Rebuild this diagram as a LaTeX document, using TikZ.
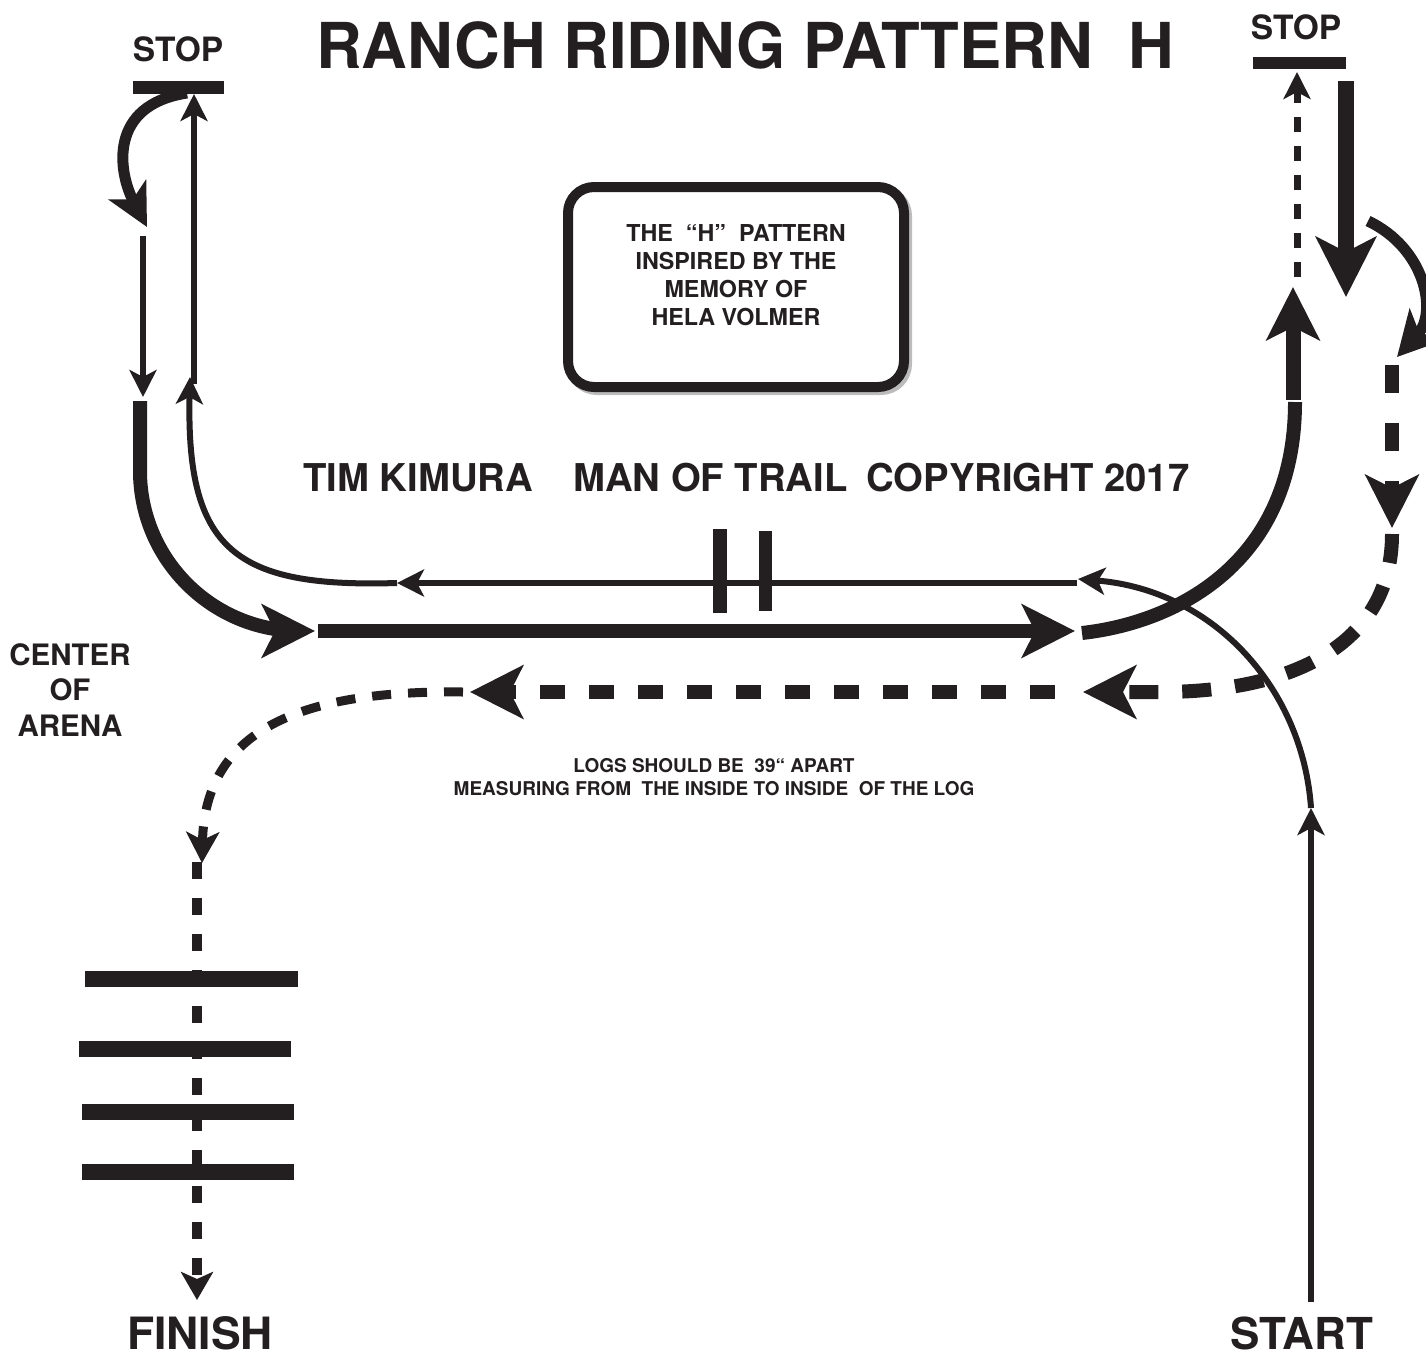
\documentclass[tikz,border=0pt]{standalone}
\usepackage{fontspec}
\setmainfont{TeX Gyre Heros}
\usetikzlibrary{arrows.meta}
\definecolor{ink}{RGB}{35,31,32}
\begin{document}
\begin{tikzpicture}[x=1pt,y=-1pt,
  txt/.style={text=ink,inner sep=0pt},
  thinline/.style={draw=ink,line width=6pt},
  midline/.style={draw=ink,line width=11pt},
  thickline/.style={draw=ink,line width=14pt},
  barline/.style={draw=ink,line width=13pt},
  logbar/.style={draw=ink,line width=16pt},
  smallhead/.style={-{Stealth[length=27pt,width=27pt,inset=7pt]}},
  midhead/.style={-{Stealth[length=42pt,width=42pt,inset=11pt]}},
  bighead/.style={-{Stealth[length=53pt,width=53pt,inset=13pt]}},
  hugehead/.style={-{Stealth[length=60pt,width=60pt,inset=15pt]}},
  dashhead/.style={-{Stealth[length=31pt,width=33pt,inset=8pt]}},
  finhead/.style={-{Stealth[length=28pt,width=32pt,inset=7pt]}},
  thindash/.style={draw=ink,line width=7pt,dash pattern=on 15pt off 14pt},
  heavydash/.style={draw=ink,line width=14pt,dash pattern=on 28pt off 26pt},
  meddash/.style={draw=ink,line width=9pt,dash pattern=on 19pt off 17pt},
]
\useasboundingbox (0,0) rectangle (1426,1358);

% ---------- texts ----------
\node[txt,font=\bfseries\fontsize{63.3}{70}\selectfont] (title) at (745,45) {RANCH RIDING PATTERN\ \ H};
\node[txt,font=\bfseries\fontsize{33.5}{38}\selectfont] (stopL) at (178,49) {STOP};
\node[txt,font=\bfseries\fontsize{33.5}{38}\selectfont] (stopR) at (1296,27) {STOP};
\node[txt,font=\bfseries\fontsize{38.3}{44}\selectfont,anchor=west] (tim) at (303,478) {TIM KIMURA};
\node[txt,font=\bfseries\fontsize{38.3}{44}\selectfont,anchor=west] (man) at (573,478) {MAN OF TRAIL};
\node[txt,font=\bfseries\fontsize{38.3}{44}\selectfont,anchor=west] (copy) at (866,478) {COPYRIGHT 2017};
\node[txt,font=\bfseries\fontsize{29.5}{35.5}\selectfont,align=center] (center) at (70,690) {CENTER\\OF\\ARENA};
\node[txt,font=\bfseries\fontsize{19}{23}\selectfont,align=center] (logsnote) at (714,777.5)
  {LOGS SHOULD BE\ \ 39“ APART\\MEASURING FROM\ \ THE INSIDE TO INSIDE\ \ OF THE LOG};
\node[txt,font=\bfseries\fontsize{44.5}{50}\selectfont] (finish) at (200,1333) {FINISH};
\node[txt,font=\bfseries\fontsize{44}{50}\selectfont] (start) at (1302,1333) {START};

% ---------- memo box ----------
\draw[ink!30,line width=10pt,rounded corners=26pt] (571,190) rectangle (907,390);
\node[draw=ink,fill=white,line width=10pt,rounded corners=26pt,minimum width=336pt,minimum height=200pt,inner sep=0pt] (memo) at (736,287) {};
\node[txt,font=\bfseries\fontsize{23.3}{28}\selectfont,align=center] (memotext) at (736,275)
  {THE\ \ “H”\ \ PATTERN\\INSPIRED BY THE\\MEMORY OF\\HELA VOLMER};

% ---------- stop bars ----------
\coordinate (sLa) at (133,87); \coordinate (sLb) at (224,87);
\coordinate (sRa) at (1253,63); \coordinate (sRb) at (1346,63);
\draw[barline] (sLa) -- (sLb);
\draw[draw=ink,line width=12pt] (sRa) -- (sRb);

% ---------- logs ----------
\draw[logbar] (85,979) coordinate (l1a) -- (298,979) coordinate (l1b);
\draw[logbar] (79,1049) coordinate (l2a) -- (291,1049) coordinate (l2b);
\draw[logbar] (82,1112) coordinate (l3a) -- (294,1112) coordinate (l3b);
\draw[logbar] (82,1172) coordinate (l4a) -- (294,1172) coordinate (l4b);
\draw[draw=ink,line width=14pt] (720,529) coordinate (p1a) -- (720,613) coordinate (p1b);
\draw[draw=ink,line width=13pt] (765,531) coordinate (p2a) -- (765,611) coordinate (p2b);

% ---------- thin route (from START) ----------
\coordinate (t0) at (1311,1302);
\coordinate (t1) at (1311,808);
\coordinate (t2) at (1078,579);
\coordinate (t3s) at (1077,583);
\coordinate (t3) at (397,583);
\coordinate (t4) at (190,377);
\coordinate (t5s) at (194,384);
\coordinate (t5) at (194,94);
\draw[thinline,smallhead] (t0) -- (t1);
\draw[thinline,smallhead] (t1) .. controls (1303,690) and (1215,590) .. (t2);
\draw[thinline,smallhead] (t3s) -- (t3);
\draw[thinline,smallhead] (t3) .. controls (235,588) and (186,550) .. (t4);
\draw[thinline,smallhead] (t5s) -- (t5);

% ---------- left side ----------
\coordinate (u0) at (187,93);
\coordinate (u1) at (147,227);
\draw[midline,midhead] (u0) .. controls (108,105) and (118,172) .. (u1);
\coordinate (v0) at (143,236);
\coordinate (v1) at (143,397);
\draw[thinline,smallhead] (v0) -- (v1);
\coordinate (w0) at (140,401);
\coordinate (w1) at (315,631);
\draw[thickline,bighead] (w0) -- (140,471) .. controls (140,559) and (212,631) .. (300,631) -- (w1);
\coordinate (h0) at (318,631);
\coordinate (h1) at (1075,631);
\draw[thickline,bighead] (h0) -- (h1);

% ---------- right side ----------
\coordinate (r0) at (1082,633);
\coordinate (r1) at (1295,402);
\draw[thickline] (r0) .. controls (1180,622) and (1295,560) .. (r1);
\coordinate (r2) at (1293,400);
\coordinate (r3) at (1293,287);
\draw[draw=ink,line width=15pt,bighead] (r2) -- (r3);
\coordinate (q0) at (1297,277);
\coordinate (q1) at (1297,72);
\draw[thindash,smallhead] (q0) -- (q1);
\coordinate (d0) at (1346,81);
\coordinate (d1) at (1346,297);
\draw[draw=ink,line width=16pt,hugehead] (d0) -- (d1);
\coordinate (c0) at (1368,221);
\coordinate (c1) at (1397,357);
\draw[midline,-{Stealth[length=44pt,width=46pt,inset=11pt]}] (c0) .. controls (1425,248) and (1438,312) .. (c1);
\coordinate (e0) at (1392,365);
\coordinate (e1) at (1392,528);
\draw[heavydash,dash pattern=on 28pt off 30pt,bighead] (e0) -- (e1);
\coordinate (f0) at (1392,534);
\coordinate (f1) at (1083,692);
\draw[heavydash,dash pattern=on 29pt off 24pt,bighead] (f0) .. controls (1392,640) and (1300,692) .. (1160,692) -- (f1);
\coordinate (g0) at (1055,692);
\coordinate (g1) at (470,692);
\draw[heavydash,dash pattern=on 25pt off 24pt,bighead] (g0) -- (g1);

% ---------- to finish ----------
\coordinate (k0) at (463,692);
\coordinate (k1) at (202,863);
\draw[meddash,dashhead] (k0) .. controls (300,690) and (205,730) .. (k1);
\coordinate (m0) at (197,862);
\coordinate (m1) at (197,1300);
\draw[draw=ink,line width=10pt,dash pattern=on 17pt off 19pt,finhead] (m0) -- (m1);
\end{tikzpicture}
\end{document}
